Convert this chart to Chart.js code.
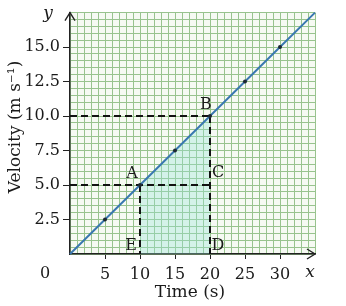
<!DOCTYPE html>
<html>
<head>
<meta charset="utf-8">
<script src="https://cdn.jsdelivr.net/npm/chart.js@4"></script>
<style>
  html, body { margin: 0; padding: 0; background: #fff; }
  #wrap { width: 346px; height: 306px; }
</style>
</head>
<body>
<div id="wrap"><canvas id="chart" width="346" height="306"></canvas></div>
<script>
// Velocity-time data
const timeValues = [0, 5, 10, 15, 20, 25, 30, 35];
const velocityValues = [0, 2.5, 5, 7.5, 10, 12.5, 15, 17.5];

// shaded area under the line between A and B
const areaTime = [10, 20];
const areaVelocity = [5, 10];

// dashed guides: [x0, y0, x1, y1]
const guideB = [0, 10, 20, 10];   // horizontal through B
const guideA = [0, 5, 20, 5];     // horizontal through A to C
const guideBD = [20, 10, 20, 0];  // vertical B to D
const guideAE = [10, 5, 10, 0];   // vertical A to E

// point letters
const pointNames = ['A', 'B', 'C', 'D', 'E'];
const pointTime = [10, 20, 20, 20, 10];
const pointVelocity = [5, 10, 5, 0, 0];

const xTickLabels = [5, 10, 15, 20, 25, 30];
const yTickLabels = [2.5, 5, 7.5, 10, 12.5, 15];

const SERIF = '"DejaVu Serif", "Liberation Serif", serif';

function pts(xs, ys) {
  return xs.map((x, i) => ({ x, y: ys[i] }));
}
function seg(s) {
  return [{ x: s[0], y: s[1] }, { x: s[2], y: s[3] }];
}

const dashStyle = {
  type: 'line',
  borderColor: '#111',
  borderWidth: 2,
  borderDash: [7, 4],
  pointRadius: 0,
  fill: false,
  order: 1
};

// letters, axis arrows and axis names
const decorations = {
  id: 'decorations',
  afterDatasetsDraw(chart) {
    const { ctx, scales: { x, y } } = chart;
    ctx.save();
    ctx.fillStyle = '#1a1a1a';
    ctx.font = '16px ' + SERIF;
    ctx.textAlign = 'center';
    ctx.textBaseline = 'middle';
    const offsets = { A: [-8, -11], B: [-4, -11], C: [8, -12], D: [8, -8], E: [-9, -8] };
    pointNames.forEach((n, i) => {
      const px = x.getPixelForValue(pointTime[i]);
      const py = y.getPixelForValue(pointVelocity[i]);
      ctx.fillText(n, px + offsets[n][0], py + offsets[n][1]);
    });
    ctx.restore();
  },
  afterDraw(chart) {
    const { ctx, chartArea: a } = chart;
    ctx.save();
    // arrowheads
    ctx.strokeStyle = '#222';
    ctx.lineWidth = 1.4;
    ctx.beginPath();
    ctx.moveTo(a.left - 5, a.top + 8);
    ctx.lineTo(a.left, a.top);
    ctx.lineTo(a.left + 5, a.top + 8);
    ctx.moveTo(a.right - 8, a.bottom - 5);
    ctx.lineTo(a.right, a.bottom);
    ctx.lineTo(a.right - 8, a.bottom + 5);
    ctx.stroke();

    ctx.fillStyle = '#1a1a1a';
    ctx.textAlign = 'center';
    ctx.textBaseline = 'middle';
    ctx.font = 'italic 17px ' + SERIF;
    ctx.fillText('y', 48, 14);
    ctx.fillText('x', 310, 273);
    ctx.font = '16px ' + SERIF;
    ctx.fillText('0', 45, 274);
    ctx.font = '17px ' + SERIF;
    ctx.fillText('Time (s)', 190, 293);
    ctx.translate(16, 127);
    ctx.rotate(-Math.PI / 2);
    ctx.fillText('Velocity (m s\u207B\u00B9)', 0, 0);
    ctx.restore();
  },
  beforeDraw(chart) {
    const { ctx, chartArea: a } = chart;
    ctx.save();
    ctx.fillStyle = '#f6faf3';
    ctx.fillRect(a.left, a.top, a.right - a.left, a.bottom - a.top);
    ctx.restore();
  }
};

new Chart(document.getElementById('chart'), {
  type: 'scatter',
  data: {
    datasets: [
      {
        type: 'line',
        data: pts(timeValues, velocityValues),
        borderColor: '#3a78b0',
        borderWidth: 2,
        pointRadius: c => (c.dataIndex === 0 || c.dataIndex === timeValues.length - 1) ? 0 : 2,
        pointBackgroundColor: '#1c2733',
        pointBorderWidth: 0,
        fill: false,
        clip: 4,
        order: 0
      },
      { ...dashStyle, data: seg(guideB) },
      { ...dashStyle, data: seg(guideA) },
      { ...dashStyle, data: seg(guideBD) },
      { ...dashStyle, data: seg(guideAE) },
      {
        type: 'line',
        data: pts(areaTime, areaVelocity),
        borderWidth: 0,
        pointRadius: 0,
        backgroundColor: 'rgba(150, 225, 215, 0.35)',
        fill: 'origin',
        order: 2
      }
    ]
  },
  options: {
    responsive: false,
    animation: false,
    events: [],
    layout: { padding: { top: 9, right: 31, left: 0, bottom: 0 } },
    plugins: { legend: { display: false }, tooltip: { enabled: false } },
    scales: {
      x: {
        type: 'linear',
        min: 0,
        max: 35,
        afterFit: s => { s.height = 52; },
        border: { color: '#222', width: 1.5 },
        grid: {
          color: '#98c38e',
          lineWidth: 1,
          tickLength: 5,
          tickColor: c => xTickLabels.includes(c.tick.value) ? '#222' : 'rgba(0,0,0,0)'
        },
        ticks: {
          stepSize: 1,
          autoSkip: false,
          maxRotation: 0,
          padding: 6,
          color: '#1a1a1a',
          font: { family: SERIF, size: 16 },
          callback: v => xTickLabels.includes(v) ? String(v) : ''
        }
      },
      y: {
        type: 'linear',
        min: 0,
        max: 17.5,
        afterFit: s => { s.width = 70; },
        border: { color: '#222', width: 1.5 },
        grid: {
          color: '#98c38e',
          lineWidth: 1,
          tickLength: 7,
          tickColor: c => yTickLabels.includes(c.tick.value) ? '#222' : 'rgba(0,0,0,0)'
        },
        ticks: {
          stepSize: 0.5,
          autoSkip: false,
          padding: 3,
          color: '#1a1a1a',
          font: { family: SERIF, size: 16 },
          callback: v => yTickLabels.includes(v) ? v.toFixed(1) : ''
        }
      }
    }
  },
  plugins: [decorations]
});
</script>
</body>
</html>
